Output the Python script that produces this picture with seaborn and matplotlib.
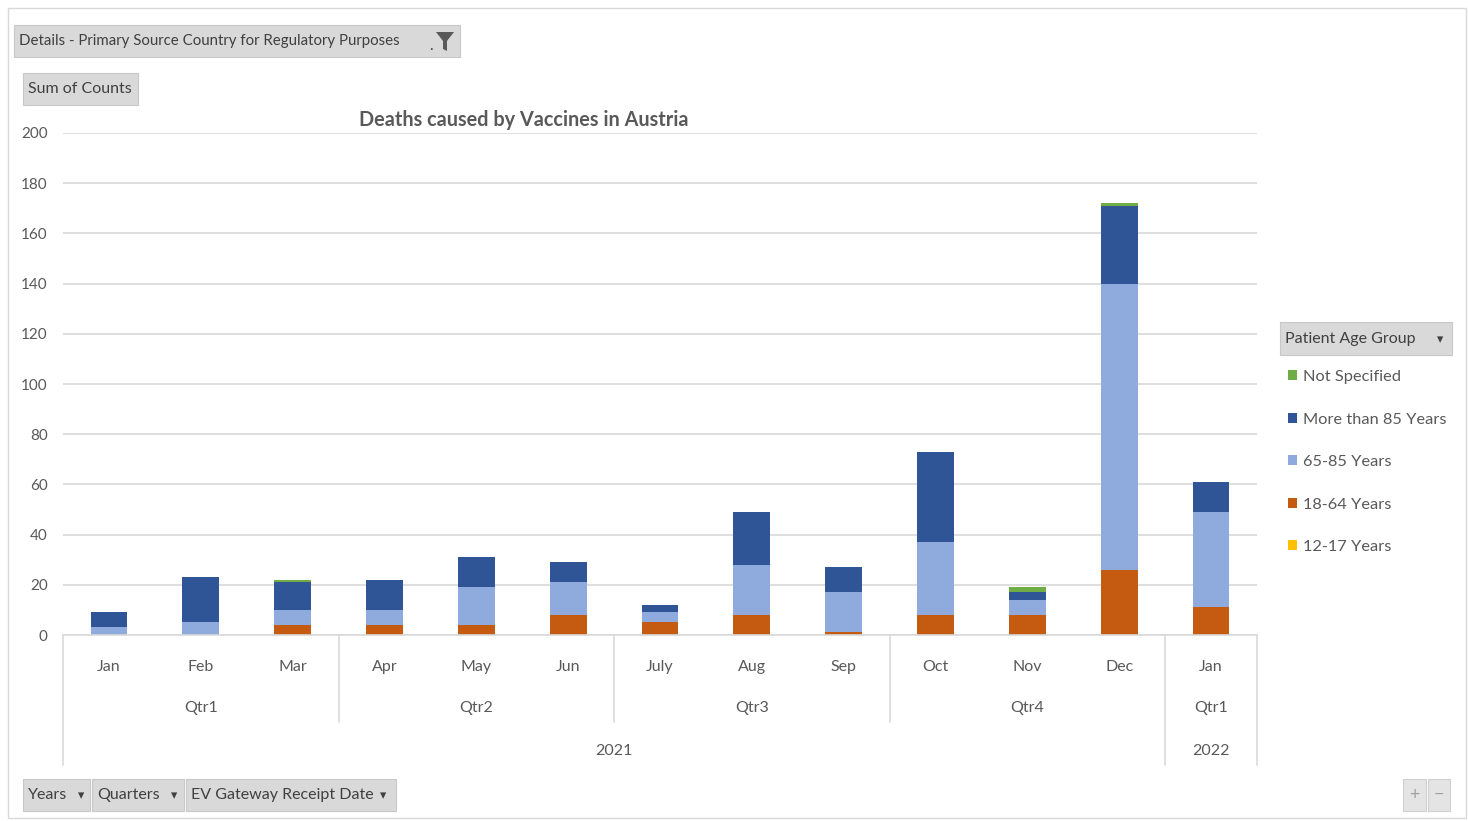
import matplotlib
matplotlib.use("Agg")
import matplotlib.pyplot as plt
import seaborn as sns
import pandas as pd
import numpy as np
from matplotlib.patches import Rectangle, Patch, Polygon
from matplotlib.lines import Line2D
from matplotlib.transforms import blended_transform_factory

# ---------------- data ----------------
months = ["Jan", "Feb", "Mar", "Apr", "May", "Jun", "July", "Aug", "Sep", "Oct", "Nov", "Dec", "Jan"]
quarters = ["Qtr1", "Qtr1", "Qtr1", "Qtr2", "Qtr2", "Qtr2", "Qtr3", "Qtr3", "Qtr3", "Qtr4", "Qtr4", "Qtr4", "Qtr1"]
years = ["2021"] * 12 + ["2022"]
age_12_17 = [0, 0, 0, 0, 0, 0, 0, 0, 0, 0, 0, 0, 0]
age_18_64 = [0, 0, 4, 4, 4, 8, 5, 8, 1, 8, 8, 26, 11]
age_65_85 = [3, 5, 6, 6, 15, 13, 4, 20, 16, 29, 6, 114, 38]
age_85_plus = [6, 18, 11, 12, 12, 8, 3, 21, 10, 36, 3, 31, 12]
not_specified = [0, 0, 1, 0, 0, 0, 0, 0, 0, 0, 2, 1, 0]

series_names = ["12-17 Years", "18-64 Years", "65-85 Years", "More than 85 Years", "Not Specified"]
series_values = [age_12_17, age_18_64, age_65_85, age_85_plus, not_specified]
series_colors = ["#FFC000", "#C55A11", "#8FAADC", "#2F5597", "#70AD47"]

FONT = ["Lato", "DejaVu Sans"]
plt.rcParams["font.family"] = FONT

W, H = 1468, 821
fig = plt.figure(figsize=(W / 100, H / 100), dpi=100)
fig.patch.set_facecolor("white")

def fx(x):
    return x / W

def fy(y):
    return 1 - y / H

ax = fig.add_axes([fx(63), fy(635), fx(1257) - fx(63), fy(133) - fy(635)])
sns.set_style("white")
plt.rcParams["font.family"] = FONT

keys = [f"{y}-{q}-{m}" for y, q, m in zip(years, quarters, months)]
df = pd.DataFrame({"period": keys})
cum = np.zeros(len(keys))
cums = []
for vals in series_values:
    cum = cum + np.array(vals, dtype=float)
    cums.append(cum.copy())

# draw from top of stack down so each lower layer covers the upper cumulative bar
for name, color, c in reversed(list(zip(series_names, series_colors, cums))):
    d = df.copy()
    d["value"] = c
    sns.barplot(data=d, x="period", y="value", order=keys, color=color,
                width=0.4, ax=ax, saturation=1, errorbar=None, linewidth=0)

ax.set_ylim(0, 200)
ax.set_xlim(-0.5, len(keys) - 0.5)
ax.set_yticks(np.arange(0, 201, 20))
ax.yaxis.grid(True, color="#D9D9D9", linewidth=1.2)
ax.set_axisbelow(True)
for s in ["top", "right", "left"]:
    ax.spines[s].set_visible(False)
ax.spines["bottom"].set_color("#D9D9D9")
ax.spines["bottom"].set_linewidth(1.2)
ax.tick_params(axis="y", length=0, pad=11, labelsize=11, labelcolor="#595959")
ax.set_xticks(range(len(keys)))
ax.set_xticklabels(months)
ax.tick_params(axis="x", length=0, pad=18, labelsize=11.5, labelcolor="#595959")
ax.set_xlabel("")
ax.set_ylabel("")

# multi-level category axis
tr = blended_transform_factory(ax.transData, ax.transAxes)
px_axes = 1.0 / (635 - 133)  # axes fraction per pixel vertically

def ay(ypix):
    return (635 - ypix) * px_axes

# quarter groups
groups = []
start = 0
for i in range(1, len(keys) + 1):
    if i == len(keys) or (quarters[i], years[i]) != (quarters[start], years[start]):
        groups.append((start, i - 1, quarters[start]))
        start = i
for a, b, q in groups:
    ax.text((a + b) / 2, ay(708), q, transform=tr, ha="center", va="center",
            fontsize=11.5, color="#595959", clip_on=False)
# year groups
ygroups = []
start = 0
for i in range(1, len(keys) + 1):
    if i == len(keys) or years[i] != years[start]:
        ygroups.append((start, i - 1, years[start]))
        start = i
for a, b, yv in ygroups:
    ax.text((a + b) / 2, ay(751), yv, transform=tr, ha="center", va="center",
            fontsize=11.5, color="#595959", clip_on=False)

# separators
for a, b, q in groups[:-1]:
    x = b + 0.5
    full = years[b] != years[b + 1]
    ax.add_line(Line2D([x, x], [0, ay(765 if full else 722)], transform=tr,
                       color="#D9D9D9", lw=1.2, clip_on=False))
for x in [-0.5, len(keys) - 0.5]:
    ax.add_line(Line2D([x, x], [0, ay(765)], transform=tr,
                       color="#D9D9D9", lw=1.2, clip_on=False))

# title
fig.text(fx(524), fy(120), "Deaths caused by Vaccines in Austria", ha="center", va="center",
         fontsize=14.3, fontweight="bold", color="#595959")

# outer border
fig.add_artist(Rectangle((fx(8), fy(818)), fx(1466) - fx(8), fy(8) - fy(818),
                         transform=fig.transFigure, fill=False, edgecolor="#D9D9D9", lw=1))

def button(x0, y0, x1, y1, text, fs=11.5):
    fig.add_artist(Rectangle((fx(x0), fy(y1)), fx(x1) - fx(x0), fy(y0) - fy(y1),
                             transform=fig.transFigure, facecolor="#D9D9D9",
                             edgecolor="#C8C8C8", lw=0.8))
    fig.text(fx(x0 + 5), fy((y0 + y1) / 2), text, ha="left", va="center",
             fontsize=fs, color="#404040")

# top field buttons
button(14, 25, 460, 57, "Details - Primary Source Country for Regulatory Purposes", fs=10.8)
fig.add_artist(Polygon([(fx(436), fy(32)), (fx(454), fy(32)), (fx(447), fy(41)),
                        (fx(447), fy(51)), (fx(443), fy(49)), (fx(443), fy(41))],
                       closed=True, transform=fig.transFigure, facecolor="#595959",
                       edgecolor="none"))
fig.text(fx(431), fy(46), ".", fontsize=11, color="#404040", ha="center", va="center")
button(23, 73, 138, 105, "Sum of Counts", fs=11.5)

# bottom field buttons
button(23, 779, 90, 811, "Years")
fig.text(fx(81), fy(795), "▾", fontsize=9, color="#404040", ha="center", va="center")
button(92, 779, 184, 811, "Quarters")
fig.text(fx(174), fy(795), "▾", fontsize=9, color="#404040", ha="center", va="center")
button(186, 779, 396, 811, "EV Gateway Receipt Date")
fig.text(fx(383), fy(795), "▾", fontsize=9, color="#404040", ha="center", va="center")

# +/- buttons
for x0, x1, sym in [(1403, 1426, "+"), (1428, 1450, "−")]:
    fig.add_artist(Rectangle((fx(x0), fy(811)), fx(x1) - fx(x0), fy(779) - fy(811),
                             transform=fig.transFigure, facecolor="#E4E4E4",
                             edgecolor="#D0D0D0", lw=0.8))
    fig.text(fx((x0 + x1) / 2), fy(795), sym, fontsize=13, color="#A0A0A0",
             ha="center", va="center")

# legend header
fig.add_artist(Rectangle((fx(1280), fy(355)), fx(1452) - fx(1280), fy(322) - fy(355),
                         transform=fig.transFigure, facecolor="#D9D9D9",
                         edgecolor="#C8C8C8", lw=0.8))
fig.text(fx(1285), fy(339), "Patient Age Group", fontsize=11.5, color="#404040",
         ha="left", va="center")
fig.text(fx(1440), fy(339), "▾", fontsize=9, color="#404040", ha="center", va="center")

handles = [Patch(facecolor=c, edgecolor="none", label=n)
           for n, c in reversed(list(zip(series_names, series_colors)))]
fig.legend(handles=handles, loc="upper left", bbox_to_anchor=(fx(1288), fy(370)),
           frameon=False, handlelength=0.55, handleheight=0.55, handletextpad=0.35,
           labelspacing=1.74, fontsize=11.8, labelcolor="#595959", borderpad=0,
           borderaxespad=0)

fig.savefig("out.png", dpi=100, facecolor="white")
